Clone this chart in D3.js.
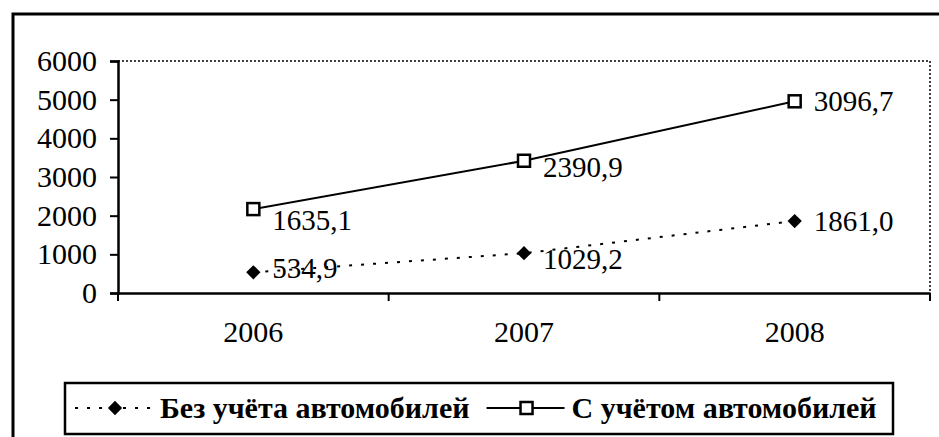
<!DOCTYPE html>
<html lang="ru">
<head>
    <meta charset="UTF-8">
    <title>Автомобили</title>
    <script src="https://d3js.org/d3.v7.min.js"></script>
    <style>
        body { margin: 0; background: #fff; }
        text { font-family: 'Liberation Serif', 'Times New Roman', serif; fill: #000; }
        .legend text { font-weight: bold; }
    </style>
</head>
<body>
<script>
    const years = ['2006', '2007', '2008'];
    const withoutCars = [534.9, 1029.2, 1861.0];
    const withCars = [1635.1, 2390.9, 3096.7];
    const seriesNames = ['Без учёта автомобилей', 'С учётом автомобилей'];
    const yTicks = [0, 1000, 2000, 3000, 4000, 5000, 6000];

    const width = 939, height = 437;
    const plot = {left: 118, top: 61, right: 930, bottom: 293};

    // label nudges (px below the marker), as in the picture
    const labelDy = [[6, 16, 10], [21, 16, 10]];

    const rows = years.map((y, i) => ({year: y, a: withoutCars[i], b: withCars[i]}));
    const stacked = d3.stack().keys(['a', 'b'])(rows);

    const ru = d3.formatLocale({decimal: ',', thousands: ' ', grouping: [3], currency: ['', '']});
    const fmt = ru.format('.1f');

    const x = d3.scaleBand().domain(years).range([plot.left, plot.right]);
    const y = d3.scaleLinear().domain([0, 6000]).range([plot.bottom, plot.top]);

    const svg = d3.select('body').append('svg')
        .attr('width', width)
        .attr('height', height);

    // outer frame (cut off at the right and bottom)
    svg.append('rect')
        .attr('x', 13).attr('y', 14)
        .attr('width', 960).attr('height', 460)
        .attr('fill', 'none').attr('stroke', '#000').attr('stroke-width', 3);

    // dotted plot-area frame on top and right
    svg.append('path')
        .attr('d', `M${plot.left},${plot.top}H${plot.right}V${plot.bottom}`)
        .attr('fill', 'none').attr('stroke', '#000')
        .attr('stroke-width', 1.5).attr('stroke-dasharray', '2,2');

    const yAxis = svg.append('g')
        .attr('transform', `translate(${plot.left},0)`)
        .call(d3.axisLeft(y).tickValues(yTicks).tickSize(8).tickPadding(13).tickFormat(d3.format('d')));
    yAxis.selectAll('text').style('font-size', '30px');

    const xAxis = svg.append('g')
        .attr('transform', `translate(0,${plot.bottom})`)
        .call(d3.axisBottom(x).tickSize(0).tickPadding(28));
    xAxis.selectAll('text').style('font-size', '30px');
    // ticks between categories
    xAxis.selectAll('.sep')
        .data([0, 1, 2, 3])
        .enter().append('line').attr('class', 'sep')
        .attr('x1', i => plot.left + i * x.step())
        .attr('x2', i => plot.left + i * x.step())
        .attr('y1', 0).attr('y2', 8)
        .attr('stroke', '#000').attr('stroke-width', 2);

    svg.selectAll('.domain').attr('stroke-width', 2.5);
    svg.selectAll('.tick line').attr('stroke-width', 2);

    const cx = d => x(d.data.year) + x.bandwidth() / 2;
    const line = d3.line().x(cx).y(d => y(d[1]));

    // series 1: dotted with diamonds
    svg.append('path')
        .datum(stacked[0])
        .attr('d', line)
        .attr('fill', 'none').attr('stroke', '#000')
        .attr('stroke-width', 2).attr('stroke-dasharray', '3,9');

    svg.selectAll('.diamond')
        .data(stacked[0])
        .enter().append('path').attr('class', 'diamond')
        .attr('d', d3.symbol(d3.symbolDiamond2, 130))
        .attr('transform', d => `translate(${cx(d)},${y(d[1])})`)
        .attr('fill', '#000');

    // series 2: solid with open squares
    svg.append('path')
        .datum(stacked[1])
        .attr('d', line)
        .attr('fill', 'none').attr('stroke', '#000').attr('stroke-width', 2);

    svg.selectAll('.square')
        .data(stacked[1])
        .enter().append('rect').attr('class', 'square')
        .attr('x', d => cx(d) - 6).attr('y', d => y(d[1]) - 6)
        .attr('width', 12).attr('height', 12)
        .attr('fill', '#fff').attr('stroke', '#000').attr('stroke-width', 2.5);

    // value labels (raw values, not cumulative)
    const raw = [withoutCars, withCars];
    stacked.forEach((s, si) => {
        svg.selectAll('.lab' + si)
            .data(s)
            .enter().append('text').attr('class', 'lab' + si)
            .attr('x', d => cx(d) + 19)
            .attr('y', (d, i) => y(d[1]) + labelDy[si][i])
            .style('font-size', '29px')
            .text((d, i) => fmt(raw[si][i]));
    });

    // legend
    const legend = svg.append('g').attr('class', 'legend');
    legend.append('rect')
        .attr('x', 65).attr('y', 383)
        .attr('width', 828).attr('height', 51)
        .attr('fill', '#fff').attr('stroke', '#000').attr('stroke-width', 2.5);

    const ly = 408;
    legend.append('line')
        .attr('x1', 75).attr('x2', 153).attr('y1', ly).attr('y2', ly)
        .attr('stroke', '#000').attr('stroke-width', 2).attr('stroke-dasharray', '3,9');
    legend.append('path')
        .attr('d', d3.symbol(d3.symbolDiamond2, 130))
        .attr('transform', `translate(115,${ly})`);
    const t1 = legend.append('text')
        .attr('x', 160).attr('y', ly + 10)
        .style('font-size', '30px')
        .text(seriesNames[0]);

    const s2 = t1.node().getComputedTextLength() + 160 + 17;
    legend.append('line')
        .attr('x1', s2).attr('x2', s2 + 78).attr('y1', ly).attr('y2', ly)
        .attr('stroke', '#000').attr('stroke-width', 2);
    legend.append('rect')
        .attr('x', s2 + 34).attr('y', ly - 6)
        .attr('width', 12).attr('height', 12)
        .attr('fill', '#fff').attr('stroke', '#000').attr('stroke-width', 2.5);
    legend.append('text')
        .attr('x', s2 + 85).attr('y', ly + 10)
        .style('font-size', '30px')
        .text(seriesNames[1]);
</script>
</body>
</html>
